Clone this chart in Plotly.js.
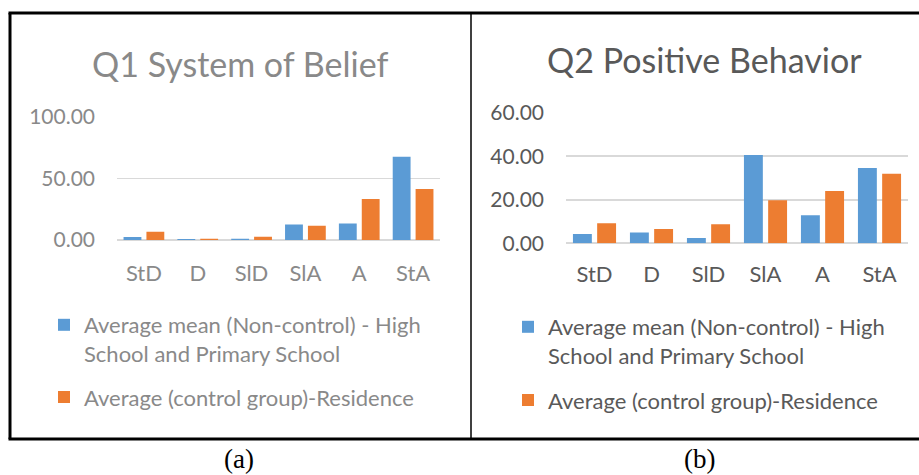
<!DOCTYPE html>
<html>
<head>
<meta charset="utf-8">
<script src="https://cdn.plot.ly/plotly-3.0.1.min.js"></script>
<style>
  html, body { margin: 0; padding: 0; background: #ffffff; }
  #chart { width: 919px; height: 475px; }
</style>
</head>
<body>
<div id="chart"></div>
<script>
// ---- data ----
var categories = ['StD', 'D', 'SlD', 'SlA', 'A', 'StA'];
var seriesNames = ['Average mean (Non-control) - High<br>School and Primary School', 'Average (control group)-Residence'];
var q1NonControl = [2.5, 0.8, 1.0, 12.6, 13.4, 67.5];
var q1Control = [6.7, 1.0, 2.7, 11.5, 33.3, 41.4];
var q2NonControl = [4.3, 5.0, 2.4, 40.6, 12.9, 34.6];
var q2Control = [9.2, 6.6, 8.7, 19.8, 24.0, 31.9];
var panelTitles = ['Q1 System of Belief', 'Q2 Positive Behavior'];
var captions = ['(a)', '(b)'];

// ---- layout helpers ----
var W = 919, H = 475;
function px(x) { return x / W; }
function py(y) { return 1 - y / H; }

var BLUE = '#5b9bd5', ORANGE = '#ed7d31';
var GREY_A = '#898989', GREY_B = '#595959';
var FONT = 'Lato, Carlito, Calibri, sans-serif';
var SERIF = '"Liberation Serif", "Times New Roman", serif';

var traces = [
  {type: 'bar', x: categories, y: q1NonControl, name: seriesNames[0], marker: {color: BLUE},
   xaxis: 'x', yaxis: 'y', legend: 'legend', legendgroup: 'a1'},
  {type: 'bar', x: categories, y: q1Control, name: seriesNames[1], marker: {color: ORANGE},
   xaxis: 'x', yaxis: 'y', legend: 'legend', legendgroup: 'a2'},
  {type: 'bar', x: categories, y: q2NonControl, name: seriesNames[0], marker: {color: BLUE},
   xaxis: 'x2', yaxis: 'y2', legend: 'legend2', legendgroup: 'b1'},
  {type: 'bar', x: categories, y: q2Control, name: seriesNames[1], marker: {color: ORANGE},
   xaxis: 'x2', yaxis: 'y2', legend: 'legend2', legendgroup: 'b2'}
];

function xAxis(domain, anchor, color, standoff) {
  return {domain: domain, anchor: anchor, showgrid: false, showline: false, zeroline: false,
    ticks: '', ticklabelstandoff: standoff, tickfont: {family: FONT, size: 22, color: color},
    fixedrange: true};
}
function yAxis(domain, anchor, range, dtick, color) {
  return {domain: domain, anchor: anchor, range: range, dtick: dtick, tickformat: '.2f',
    showgrid: true, gridcolor: '#d9d9d9', gridwidth: 1.5, zeroline: true, zerolinecolor: '#d9d9d9',
    zerolinewidth: 2, showline: false, ticks: '', ticklabelstandoff: 21,
    tickfont: {family: FONT, size: 21, color: color}, fixedrange: true};
}

var line = {color: '#000000', width: 3};
var shapes = [
  {type: 'line', xref: 'paper', yref: 'paper', x0: px(8.5), x1: px(919), y0: py(13), y1: py(13), line: line},
  {type: 'line', xref: 'paper', yref: 'paper', x0: px(8.5), x1: px(919), y0: py(439), y1: py(439), line: line},
  {type: 'line', xref: 'paper', yref: 'paper', x0: px(10), x1: px(10), y0: py(13), y1: py(439), line: line},
  {type: 'line', xref: 'paper', yref: 'paper', x0: px(471), x1: px(471), y0: py(13), y1: py(439), line: {color: '#000000', width: 1.5}}
];

var annotations = [
  {text: panelTitles[0], xref: 'paper', yref: 'paper', x: px(240), y: py(63), xanchor: 'center', yanchor: 'middle',
   showarrow: false, font: {family: FONT, size: 34, color: GREY_A}},
  {text: panelTitles[1], xref: 'paper', yref: 'paper', x: px(704), y: py(60), xanchor: 'center', yanchor: 'middle',
   showarrow: false, font: {family: FONT, size: 34, color: GREY_B}},
  {text: captions[0], xref: 'paper', yref: 'paper', x: px(239), y: py(459), xanchor: 'center', yanchor: 'middle',
   showarrow: false, font: {family: SERIF, size: 27, color: '#000000'}},
  {text: captions[1], xref: 'paper', yref: 'paper', x: px(699), y: py(459), xanchor: 'center', yanchor: 'middle',
   showarrow: false, font: {family: SERIF, size: 27, color: '#000000'}}
];

var layout = {
  width: W, height: H,
  margin: {l: 0, r: 0, t: 0, b: 0},
  paper_bgcolor: '#ffffff', plot_bgcolor: '#ffffff',
  barmode: 'group', bargap: 0.15, bargroupgap: 0.22,
  font: {family: FONT},
  xaxis: xAxis([px(117), px(440)], 'y', GREY_A, 18),
  yaxis: yAxis([py(240), py(116.7)], 'x', [0, 100], 50, GREY_A),
  xaxis2: xAxis([px(566), px(908)], 'y2', GREY_B, 16),
  yaxis2: yAxis([py(243.3), py(112.7)], 'x2', [0, 60], 20, GREY_B),
  showlegend: true,
  legend: {x: px(44), y: py(304), xanchor: 'left', yanchor: 'top', orientation: 'v',
    traceorder: 'grouped', tracegroupgap: 12, valign: 'top', bgcolor: 'rgba(0,0,0,0)',
    font: {family: FONT, size: 22, color: GREY_A}},
  legend2: {x: px(508), y: py(306), xanchor: 'left', yanchor: 'top', orientation: 'v',
    traceorder: 'grouped', tracegroupgap: 13, valign: 'top', bgcolor: 'rgba(0,0,0,0)',
    font: {family: FONT, size: 22, color: GREY_B}},
  shapes: shapes,
  annotations: annotations
};

Plotly.newPlot('chart', traces, layout, {staticPlot: true, displayModeBar: false});
</script>
</body>
</html>
